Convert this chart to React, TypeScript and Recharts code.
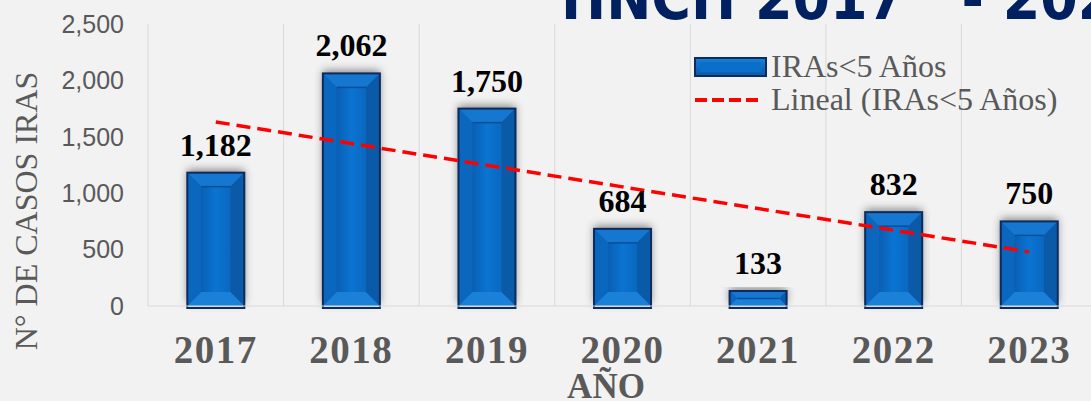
import React from "react"
import {
  Bar,
  CartesianGrid,
  ComposedChart,
  LabelList,
  Line,
  XAxis,
  YAxis,
} from "recharts"

const years = ["2017", "2018", "2019", "2020", "2021", "2022", "2023"]
const casos = [1182, 2062, 1750, 684, 133, 832, 750]
// linear trend line
const lineal = [1632, 1440, 1248, 1056, 864, 672, 480]
const yTicks = [0, 500, 1000, 1500, 2000, 2500]

const data = years.map((y, i) => ({ year: y, casos: casos[i], lineal: lineal[i] }))

const GRAY = "#595959"
const SERIF = "'Liberation Serif', 'Times New Roman', serif"

function BevelBar(props: any) {
  const { x, y, width, height } = props
  if (!height || height <= 0) return null
  const b = Math.min(14, width / 4, height / 2)
  const x2 = x + width
  const y2 = y + height
  return (
    <g>
      <rect x={x} y={y} width={width} height={height} fill="#0a5db0" filter="url(#barShadow)" />
      <polygon points={`${x},${y} ${x2},${y} ${x2 - b},${y + b} ${x + b},${y + b}`} fill="#1577cf" />
      <polygon points={`${x},${y} ${x + b},${y + b} ${x + b},${y2 - b} ${x},${y2}`} fill="#0b66bd" />
      <polygon points={`${x2},${y} ${x2},${y2} ${x2 - b},${y2 - b} ${x2 - b},${y + b}`} fill="#0a5aa8" />
      <polygon points={`${x},${y2} ${x + b},${y2 - b} ${x2 - b},${y2 - b} ${x2},${y2}`} fill="#1a80d8" />
      <rect x={x + b} y={y + b} width={width - 2 * b} height={height - 2 * b} fill="url(#faceGrad)" />
      <line x1={x + b} y1={y + b} x2={x2 - b} y2={y + b} stroke="#0a4f96" strokeWidth={1.5} />
      <rect x={x} y={y} width={width} height={height + 2} fill="none" stroke="#0c2b5e" strokeWidth={2} />
    </g>
  )
}

function ValueLabel(props: any) {
  const { x, y, width, value } = props
  return (
    <text
      x={x + width / 2}
      y={y - 17}
      textAnchor="middle"
      fontFamily={SERIF}
      fontWeight="bold"
      fontSize={32}
      fill="#000"
    >
      {value.toLocaleString("en-US")}
    </text>
  )
}

function YearTick(props: any) {
  const { x, y, payload } = props
  return (
    <text
      x={x}
      y={y + 49}
      textAnchor="middle"
      fontFamily={SERIF}
      fontWeight="bold"
      fontSize={39}
      letterSpacing={1.5}
      fill={GRAY}
    >
      {payload.value}
    </text>
  )
}

function LegendBox() {
  return (
    <div style={{ fontFamily: SERIF, fontSize: 32, color: GRAY, lineHeight: "33px" }}>
      <div style={{ display: "flex", alignItems: "center" }}>
        <svg width={77} height={22}>
          <defs>
            <linearGradient id="legGrad" x1="0" y1="0" x2="0" y2="1">
              <stop offset="0" stopColor="#1680d8" />
              <stop offset="1" stopColor="#0a5aa8" />
            </linearGradient>
          </defs>
          <rect x={1} y={2} width={71} height={18} fill="url(#legGrad)" stroke="#0c2b5e" strokeWidth={2} />
          <rect x={6} y={6} width={61} height={10} fill="#0a6fcb" />
        </svg>
        <span>IRAs&lt;5 Años</span>
      </div>
      <div style={{ display: "flex", alignItems: "center" }}>
        <svg width={77} height={22}>
          <line x1={1} y1={11} x2={66} y2={11} stroke="#ff0000" strokeWidth={4} strokeDasharray="12 5" />
        </svg>
        <span>Lineal (IRAs&lt;5 Años)</span>
      </div>
    </div>
  )
}

export default function App() {
  return (
    <div
      style={{
        position: "fixed",
        left: 0,
        top: 0,
        width: 1091,
        height: 401,
        overflow: "hidden",
        background: "#f2f2f2",
      }}
    >
      <svg width={1091} height={40} style={{ position: "absolute", left: 0, top: 0 }}>
        <text
          x={561}
          y={19}
          fontFamily="'DejaVu Sans Condensed', 'DejaVu Sans', sans-serif"
          fontWeight="bold"
          fontSize={60}
          fill="#002060"
          xmlSpace="preserve"
        >
          HNCH 2017   - 2023
        </text>
      </svg>
      <div style={{ position: "absolute", left: 0, top: 0 }}>
        <ComposedChart
          width={1100}
          height={401}
          data={data}
          margin={{ top: 24, right: 3, bottom: 65, left: 0 }}
          barCategoryGap="29%"
        >
          <defs>
            <linearGradient id="faceGrad" x1="0" y1="0" x2="1" y2="0">
              <stop offset="0" stopColor="#0a5fb3" />
              <stop offset="0.5" stopColor="#0a74d2" />
              <stop offset="1" stopColor="#0a68c0" />
            </linearGradient>
            <filter id="barShadow" x="-40%" y="-20%" width="180%" height="140%">
              <feDropShadow dx={0} dy={-3} stdDeviation={4} floodColor="#000" floodOpacity={0.45} />
            </filter>
          </defs>
          <CartesianGrid
            horizontal={false}
            stroke="#d9d9d9"
            verticalCoordinatesGenerator={({ offset }: any) =>
              years.map((_, i) => offset.left + (i * offset.width) / years.length)
            }
          />
          <XAxis
            dataKey="year"
            height={30}
            axisLine={{ stroke: "#d9d9d9" }}
            tickLine={false}
            tick={<YearTick />}
            interval={0}
          />
          <YAxis
            width={148}
            domain={[0, 2500]}
            ticks={yTicks}
            axisLine={false}
            tickLine={false}
            tickSize={6}
            tickMargin={18}
            tick={{ fill: GRAY, fontSize: 25, fontFamily: "'Liberation Sans', Arial, sans-serif" }}
            tickFormatter={(v: number) => v.toLocaleString("en-US")}
          />
          <Bar dataKey="casos" shape={<BevelBar />} isAnimationActive={false}>
            <LabelList dataKey="casos" content={<ValueLabel />} />
          </Bar>
          <Line
            dataKey="lineal"
            stroke="#ff0000"
            strokeWidth={3.5}
            strokeDasharray="14 7"
            dot={false}
            activeDot={false}
            isAnimationActive={false}
          />
        </ComposedChart>
      </div>
      <div style={{ position: "absolute", left: 694, top: 50 }}>
        <LegendBox />
      </div>
      <svg width={1091} height={401} style={{ position: "absolute", left: 0, top: 0, pointerEvents: "none" }}>
        <text
          x={37}
          y={211}
          transform="rotate(-90, 37, 211)"
          textAnchor="middle"
          fontFamily={SERIF}
          fontSize={32}
          fill={GRAY}
        >
          N° DE CASOS IRAS
        </text>
        <text x={606} y={398} textAnchor="middle" fontFamily={SERIF} fontWeight="bold" fontSize={35} fill={GRAY}>
          AÑO
        </text>
      </svg>
    </div>
  )
}
